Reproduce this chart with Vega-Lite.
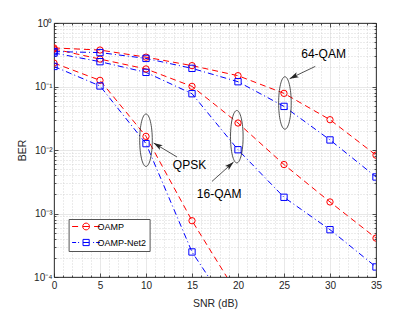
{
  "$schema": "https://vega.github.io/schema/vega-lite/v6.json",
  "width": 322,
  "height": 254,
  "autosize": "none",
  "padding": {"left": 54, "top": 23, "right": 39, "bottom": 35},
  "background": "white",
  "config": {
    "font": "Liberation Sans",
    "view": {"stroke": "#262626", "strokeWidth": 0.8},
    "axis": {
      "domainColor": "#262626",
      "domainWidth": 0.8,
      "tickColor": "#262626",
      "tickWidth": 0.8,
      "labelColor": "#262626",
      "titleColor": "#262626",
      "labelFontSize": 10,
      "titleFontSize": 10.5,
      "titleFontWeight": "normal",
      "labelFont": "Liberation Sans",
      "titleFont": "Liberation Sans",
      "labelOverlap": false,
      "labelFlush": false
    },
    "legend": {
      "title": null, "orient": "none", "legendX": 14.6, "legendY": 196,
      "strokeColor": "#555555", "fillColor": "white", "padding": 3,
      "labelFontSize": 9, "labelColor": "#000000", "labelFont": "Liberation Sans",
      "symbolSize": 16, "symbolStrokeWidth": 1, "symbolOffset": 10, "labelOffset": 7,
      "rowPadding": 5, "cornerRadius": 0
    }
  },
  "datasets": {
    "ber": [
      {"mod": "QPSK", "method": "OAMP", "snr": 0, "ber": 0.234},
      {"mod": "QPSK", "method": "OAMP", "snr": 5, "ber": 0.125},
      {"mod": "QPSK", "method": "OAMP", "snr": 10, "ber": 0.0164},
      {"mod": "QPSK", "method": "OAMP", "snr": 15, "ber": 0.00077},
      {"mod": "QPSK", "method": "OAMP", "snr": 20, "ber": 0.000052},
      {"mod": "QPSK", "method": "OAMP-Net2", "snr": 0, "ber": 0.207},
      {"mod": "QPSK", "method": "OAMP-Net2", "snr": 5, "ber": 0.102},
      {"mod": "QPSK", "method": "OAMP-Net2", "snr": 10, "ber": 0.0126},
      {"mod": "QPSK", "method": "OAMP-Net2", "snr": 15, "ber": 0.000248},
      {"mod": "QPSK", "method": "OAMP-Net2", "snr": 20, "ber": 0.00002},
      {"mod": "16-QAM", "method": "OAMP", "snr": 0, "ber": 0.39},
      {"mod": "16-QAM", "method": "OAMP", "snr": 5, "ber": 0.27},
      {"mod": "16-QAM", "method": "OAMP", "snr": 10, "ber": 0.189},
      {"mod": "16-QAM", "method": "OAMP", "snr": 15, "ber": 0.1005},
      {"mod": "16-QAM", "method": "OAMP", "snr": 20, "ber": 0.0266},
      {"mod": "16-QAM", "method": "OAMP", "snr": 25, "ber": 0.0059},
      {"mod": "16-QAM", "method": "OAMP", "snr": 30, "ber": 0.00152},
      {"mod": "16-QAM", "method": "OAMP", "snr": 35, "ber": 0.00041},
      {"mod": "16-QAM", "method": "OAMP-Net2", "snr": 0, "ber": 0.337},
      {"mod": "16-QAM", "method": "OAMP-Net2", "snr": 5, "ber": 0.246},
      {"mod": "16-QAM", "method": "OAMP-Net2", "snr": 10, "ber": 0.167},
      {"mod": "16-QAM", "method": "OAMP-Net2", "snr": 15, "ber": 0.077},
      {"mod": "16-QAM", "method": "OAMP-Net2", "snr": 20, "ber": 0.0101},
      {"mod": "16-QAM", "method": "OAMP-Net2", "snr": 25, "ber": 0.0018},
      {"mod": "16-QAM", "method": "OAMP-Net2", "snr": 30, "ber": 0.000556},
      {"mod": "16-QAM", "method": "OAMP-Net2", "snr": 35, "ber": 0.000144},
      {"mod": "64-QAM", "method": "OAMP", "snr": 0, "ber": 0.405},
      {"mod": "64-QAM", "method": "OAMP", "snr": 5, "ber": 0.375},
      {"mod": "64-QAM", "method": "OAMP", "snr": 10, "ber": 0.29},
      {"mod": "64-QAM", "method": "OAMP", "snr": 15, "ber": 0.213},
      {"mod": "64-QAM", "method": "OAMP", "snr": 20, "ber": 0.148},
      {"mod": "64-QAM", "method": "OAMP", "snr": 25, "ber": 0.078},
      {"mod": "64-QAM", "method": "OAMP", "snr": 30, "ber": 0.03},
      {"mod": "64-QAM", "method": "OAMP", "snr": 35, "ber": 0.0083},
      {"mod": "64-QAM", "method": "OAMP-Net2", "snr": 0, "ber": 0.355},
      {"mod": "64-QAM", "method": "OAMP-Net2", "snr": 5, "ber": 0.342},
      {"mod": "64-QAM", "method": "OAMP-Net2", "snr": 10, "ber": 0.277},
      {"mod": "64-QAM", "method": "OAMP-Net2", "snr": 15, "ber": 0.193},
      {"mod": "64-QAM", "method": "OAMP-Net2", "snr": 20, "ber": 0.119},
      {"mod": "64-QAM", "method": "OAMP-Net2", "snr": 25, "ber": 0.0486},
      {"mod": "64-QAM", "method": "OAMP-Net2", "snr": 30, "ber": 0.0144},
      {"mod": "64-QAM", "method": "OAMP-Net2", "snr": 35, "ber": 0.00376}
    ],
    "ellipses": [
      {"mod": "QPSK", "snr": 10, "ber": 0.01426},
      {"mod": "16-QAM", "snr": 19.87, "ber": 0.0162},
      {"mod": "64-QAM", "snr": 25.1, "ber": 0.055}
    ],
    "arrows": [
      {"label": "64-QAM", "snr": 28.4, "ber": 0.2073, "snr2": 25.61, "ber2": 0.1327},
      {"label": "QPSK", "snr": 13.37, "ber": 0.00776, "snr2": 10.83, "ber2": 0.01289},
      {"label": "16-QAM", "snr": 17.17, "ber": 0.0032, "snr2": 19.52, "ber2": 0.00647}
    ],
    "labels": [
      {"label": "64-QAM", "snr": 29.3, "ber": 0.325},
      {"label": "QPSK", "snr": 14.73, "ber": 0.00587},
      {"label": "16-QAM", "snr": 17.95, "ber": 0.00205}
    ]
  },
  "resolve": {"axis": {"x": "independent", "y": "independent"}},
  "layer": [
    {
      "data": {"name": "ber"},
      "transform": [{"filter": "datum.method === 'OAMP'"}],
      "mark": {"type": "line", "strokeWidth": 1, "clip": true, "strokeDash": [6, 4]},
      "encoding": {
        "x": {
          "field": "snr", "type": "quantitative",
          "scale": {"domain": [0, 35], "nice": false, "zero": false},
          "axis": {
            "orient": "bottom",
            "title": "SNR (dB)",
            "values": [0,1,2,3,4,5,6,7,8,9,10,11,12,13,14,15,16,17,18,19,20,21,22,23,24,25,26,27,28,29,30,31,32,33,34,35],
            "labelExpr": "datum.value % 5 === 0 ? datum.label : ''",
            "grid": true,
            "gridColor": {"condition": {"test": "datum.value % 5 === 0", "value": "#e2e2e2"}, "value": "#cccccc"},
            "gridDash": {"condition": {"test": "datum.value % 5 === 0", "value": []}, "value": [1, 2]},
            "gridWidth": 0.8,
            "tickSize": {"condition": {"test": "datum.value % 5 === 0", "value": -4}, "value": -2},
            "labelPadding": 7,
            "titlePadding": 6
          }
        },
        "y": {
          "field": "ber", "type": "quantitative",
          "scale": {"type": "log", "domain": [0.0001, 1], "nice": false},
          "axis": {
            "orient": "left",
            "title": "BER",
            "values": [0.0001,0.0002,0.0003,0.0004,0.0005,0.0006,0.0007,0.0008,0.0009,0.001,0.002,0.003,0.004,0.005,0.006,0.007,0.008,0.009,0.01,0.02,0.03,0.04,0.05,0.06,0.07,0.08,0.09,0.1,0.2,0.3,0.4,0.5,0.6,0.7,0.8,0.9,1],
            "labelExpr": "abs(log(datum.value)/LN10 - round(log(datum.value)/LN10)) < 0.001 ? '10' + ['⁰','⁻¹','⁻²','⁻³','⁻⁴'][-round(log(datum.value)/LN10)] : ''",
            "grid": true,
            "gridColor": {"condition": {"test": "abs(log(datum.value)/LN10 - round(log(datum.value)/LN10)) < 0.001", "value": "#e2e2e2"}, "value": "#cccccc"},
            "gridDash": {"condition": {"test": "abs(log(datum.value)/LN10 - round(log(datum.value)/LN10)) < 0.001", "value": []}, "value": [1, 2]},
            "gridWidth": 0.8,
            "tickSize": {"condition": {"test": "abs(log(datum.value)/LN10 - round(log(datum.value)/LN10)) < 0.001", "value": -4}, "value": -2},
            "labelPadding": 6,
            "titlePadding": 6
          }
        },
        "color": {
          "field": "method", "type": "nominal",
          "scale": {"domain": ["OAMP", "OAMP-Net2"], "range": ["#ff0000", "#0000ff"]}
        },
        "detail": {"field": "mod"}
      }
    },
    {
      "data": {"name": "ber"},
      "transform": [{"filter": "datum.method === 'OAMP-Net2'"}],
      "mark": {"type": "line", "strokeWidth": 1, "clip": true, "strokeDash": [6, 3, 1, 3]},
      "encoding": {
        "x": {"field": "snr", "type": "quantitative", "axis": null},
        "y": {"field": "ber", "type": "quantitative", "axis": null},
        "color": {"field": "method", "type": "nominal"},
        "detail": {"field": "mod"}
      }
    },
    {
      "data": {"name": "ber"},
      "mark": {"type": "point", "filled": false, "size": 40, "strokeWidth": 1, "opacity": 1, "clip": true},
      "encoding": {
        "x": {"field": "snr", "type": "quantitative", "axis": null},
        "y": {"field": "ber", "type": "quantitative", "axis": null},
        "color": {"field": "method", "type": "nominal"},
        "shape": {"condition": {"test": "datum.method === 'OAMP'", "value": "circle"}, "value": "square"}
      }
    },
    {
      "data": {"name": "ber"},
      "transform": [{"filter": "datum.snr < -100"}],
      "mark": {"type": "point", "filled": false, "strokeWidth": 1, "opacity": 1},
      "encoding": {
        "x": {"field": "snr", "type": "quantitative", "axis": null},
        "y": {"field": "ber", "type": "quantitative", "axis": null},
        "color": {"field": "method", "type": "nominal"},
        "shape": {
          "field": "method", "type": "nominal",
          "scale": {"domain": ["OAMP", "OAMP-Net2"], "range": [
            "M-7,0L-4,0M-1.7,0A1.7,1.7 0 1,1 1.7,0A1.7,1.7 0 1,1 -1.7,0M-1.7,0L1.7,0M4,0L7,0",
            "M-7,0L-5,0M-4,0L-3.5,0M-1.55,-1.55L1.55,-1.55L1.55,1.55L-1.55,1.55ZM-1.55,0L1.55,0M3.5,0L4,0M5,0L7,0"
          ]}
        }
      }
    },
    {
      "data": {"name": "ber"},
      "mark": {"type": "point", "opacity": 0},
      "encoding": {
        "x": {
          "field": "snr", "type": "quantitative",
          "axis": {
            "orient": "top", "title": null, "labels": false, "grid": false,
            "values": [0,1,2,3,4,5,6,7,8,9,10,11,12,13,14,15,16,17,18,19,20,21,22,23,24,25,26,27,28,29,30,31,32,33,34,35],
            "tickSize": {"condition": {"test": "datum.value % 5 === 0", "value": -4}, "value": -2}
          }
        },
        "y": {
          "field": "ber", "type": "quantitative",
          "axis": {
            "orient": "right", "title": null, "labels": false, "grid": false,
            "values": [0.0001,0.0002,0.0003,0.0004,0.0005,0.0006,0.0007,0.0008,0.0009,0.001,0.002,0.003,0.004,0.005,0.006,0.007,0.008,0.009,0.01,0.02,0.03,0.04,0.05,0.06,0.07,0.08,0.09,0.1,0.2,0.3,0.4,0.5,0.6,0.7,0.8,0.9,1],
            "tickSize": {"condition": {"test": "abs(log(datum.value)/LN10 - round(log(datum.value)/LN10)) < 0.001", "value": -4}, "value": -2}
          }
        }
      }
    },
    {
      "data": {"name": "ellipses"},
      "mark": {"type": "point", "shape": "M0,-1A0.24,1 0 0,1 0,1A0.24,1 0 0,1 0,-1Z", "size": 2750, "filled": false, "stroke": "#262626", "strokeWidth": 0.8, "opacity": 1},
      "encoding": {
        "x": {"field": "snr", "type": "quantitative", "axis": null},
        "y": {"field": "ber", "type": "quantitative", "axis": null}
      }
    },
    {
      "data": {"name": "arrows"},
      "mark": {"type": "rule", "color": "#262626", "strokeWidth": 0.8},
      "encoding": {
        "x": {"field": "snr", "type": "quantitative", "axis": null},
        "y": {"field": "ber", "type": "quantitative", "axis": null},
        "x2": {"field": "snr2"},
        "y2": {"field": "ber2"}
      }
    },
    {
      "data": {"name": "arrows"},
      "transform": [{"filter": "datum.label === '64-QAM'"}],
      "mark": {"type": "point", "shape": "M0,0L1.1,3.6L0,2.8L-1.1,3.6Z", "size": 25, "filled": true, "color": "#262626", "opacity": 1, "angle": 244.4},
      "encoding": {
        "x": {"field": "snr2", "type": "quantitative", "axis": null},
        "y": {"field": "ber2", "type": "quantitative", "axis": null}
      }
    },
    {
      "data": {"name": "arrows"},
      "transform": [{"filter": "datum.label === 'QPSK'"}],
      "mark": {"type": "point", "shape": "M0,0L1.1,3.6L0,2.8L-1.1,3.6Z", "size": 25, "filled": true, "color": "#262626", "opacity": 1, "angle": 300.9},
      "encoding": {
        "x": {"field": "snr2", "type": "quantitative", "axis": null},
        "y": {"field": "ber2", "type": "quantitative", "axis": null}
      }
    },
    {
      "data": {"name": "arrows"},
      "transform": [{"filter": "datum.label === '16-QAM'"}],
      "mark": {"type": "point", "shape": "M0,0L1.1,3.6L0,2.8L-1.1,3.6Z", "size": 25, "filled": true, "color": "#262626", "opacity": 1, "angle": 48.1},
      "encoding": {
        "x": {"field": "snr2", "type": "quantitative", "axis": null},
        "y": {"field": "ber2", "type": "quantitative", "axis": null}
      }
    },
    {
      "data": {"name": "labels"},
      "mark": {"type": "text", "fontSize": 12, "font": "Liberation Sans", "color": "#000000", "align": "center", "baseline": "middle"},
      "encoding": {
        "x": {"field": "snr", "type": "quantitative", "axis": null},
        "y": {"field": "ber", "type": "quantitative", "axis": null},
        "text": {"field": "label"}
      }
    }
  ]
}
